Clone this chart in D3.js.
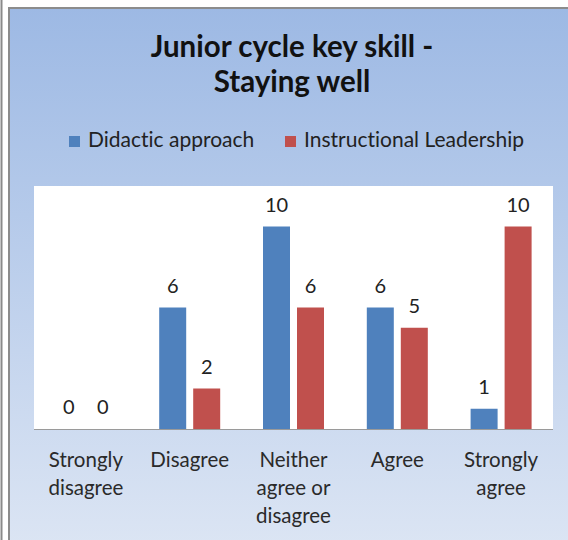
<!DOCTYPE html>
<html>
<head>
<meta charset="utf-8">
<script src="https://cdn.jsdelivr.net/npm/d3@7"></script>
<style>
  html, body { margin: 0; padding: 0; background: #fff; }
  svg { display: block; }
  text { font-variant-ligatures: none; font-feature-settings: "liga" 0, "dlig" 0; }
</style>
</head>
<body>
<div id="chart"></div>
<script>
// chart data
var categories = ["Strongly disagree", "Disagree", "Neither agree or disagree", "Agree", "Strongly agree"]
var categoryLines = [["Strongly", "disagree"], ["Disagree"], ["Neither", "agree or", "disagree"], ["Agree"], ["Strongly", "agree"]]
var series = ["Didactic approach", "Instructional Leadership"]
var didactic = [0, 6, 10, 6, 1]
var leadership = [0, 2, 6, 5, 10]
var yTicks = [0, 12]

var colors = ["#4F81BD", "#C0504D"]
var font = "Lato, 'Open Sans', sans-serif"

var width = 568, height = 540
var plot = {left: 34, right: 553, top: 186, bottom: 429}

var svg = d3.select("#chart")
	.append("svg")
	.attr("width", width)
	.attr("height", height)

var defs = svg.append("defs")
var grad = defs.append("linearGradient")
	.attr("id", "bg")
	.attr("x1", 0).attr("y1", 0).attr("x2", 0).attr("y2", 1)
grad.append("stop").attr("offset", "0%").attr("stop-color", "#9DB9E4")
grad.append("stop").attr("offset", "100%").attr("stop-color", "#DDE6F4")

// outer frame
svg.append("line")
	.attr("x1", 1.5).attr("x2", 1.5).attr("y1", 0).attr("y2", height)
	.attr("stroke", "#8a8a8a").attr("stroke-width", 2)
svg.append("rect")
	.attr("x", 9).attr("y", 8)
	.attr("width", width + 10).attr("height", height + 10)
	.attr("fill", "url(#bg)")
	.attr("stroke", "#8c8c8c").attr("stroke-width", 2)

// plot area
svg.append("rect")
	.attr("x", plot.left).attr("y", plot.top)
	.attr("width", plot.right - plot.left).attr("height", plot.bottom - plot.top)
	.attr("fill", "#fff")

// title
svg.append("text")
	.attr("x", 292).attr("y", 57)
	.attr("text-anchor", "middle")
	.attr("font-family", font).attr("font-weight", "bold")
	.attr("font-size", 29.5).attr("fill", "#111")
	.selectAll("tspan")
	.data(["Junior cycle key skill -", "Staying well"])
	.enter().append("tspan")
	.attr("x", 292)
	.attr("dy", function(d, i) { return i == 0 ? 0 : 35 })
	.text(function(d) { return d })

// scales
var x = d3.scaleBand().domain(categories).range([plot.left, plot.right])
var xInner = d3.scaleBand().domain(series).range([0, 61]).paddingInner(7 / 34)
var y = d3.scaleLinear().domain([yTicks[0], yTicks[1]]).range([plot.bottom, plot.top])
var offset = (x.bandwidth() - 61) / 2

// legend
var legendX = [69, 285]
var legend = svg.selectAll(".legend")
	.data(series)
	.enter().append("g")
	.attr("class", "legend")
	.attr("transform", function(d, i) { return "translate(" + legendX[i] + ",136)" })
legend.append("rect")
	.attr("width", 11).attr("height", 11)
	.attr("fill", function(d, i) { return colors[i] })
legend.append("text")
	.attr("x", 19).attr("y", 11)
	.attr("font-family", font).attr("font-size", 21)
	.attr("fill", "#222")
	.text(function(d) { return d })

// bars
var rows = categories.map(function(c, i) {
	return {cat: c, values: [didactic[i], leadership[i]]}
})

var groups = svg.selectAll(".group")
	.data(rows)
	.enter().append("g")
	.attr("class", "group")
	.attr("transform", function(d) { return "translate(" + (x(d.cat) + offset) + ",0)" })

groups.selectAll("rect")
	.data(function(d) { return d.values.map(function(v, i) { return {s: series[i], v: v, i: i} }) })
	.enter().append("rect")
	.attr("x", function(d) { return xInner(d.s) })
	.attr("width", xInner.bandwidth())
	.attr("y", function(d) { return y(d.v) })
	.attr("height", function(d) { return y(0) - y(d.v) })
	.attr("fill", function(d) { return colors[d.i] })

groups.selectAll("text")
	.data(function(d) { return d.values.map(function(v, i) { return {s: series[i], v: v, i: i} }) })
	.enter().append("text")
	.attr("x", function(d) { return xInner(d.s) + xInner.bandwidth() / 2 })
	.attr("y", function(d) { return y(d.v) - 15 })
	.attr("text-anchor", "middle")
	.attr("font-family", font).attr("font-size", 20)
	.attr("fill", "#222")
	.text(function(d) { return d.v })

// axis baseline
svg.append("line")
	.attr("x1", plot.left).attr("x2", plot.right)
	.attr("y1", plot.bottom + 0.5).attr("y2", plot.bottom + 0.5)
	.attr("stroke", "#9a9a9a").attr("stroke-width", 1)

// category labels
var labels = svg.selectAll(".cat")
	.data(categories)
	.enter().append("text")
	.attr("class", "cat")
	.attr("text-anchor", "middle")
	.attr("font-family", font).attr("font-size", 20.5)
	.attr("fill", "#2a2a2a")
	.attr("y", 467)
labels.selectAll("tspan")
	.data(function(d, i) { return categoryLines[i] })
	.enter().append("tspan")
	.attr("x", function() { var c = d3.select(this.parentNode).datum(); return x(c) + x.bandwidth() / 2 })
	.attr("dy", function(d, i) { return i == 0 ? 0 : 28 })
	.text(function(d) { return d })
</script>
</body>
</html>
